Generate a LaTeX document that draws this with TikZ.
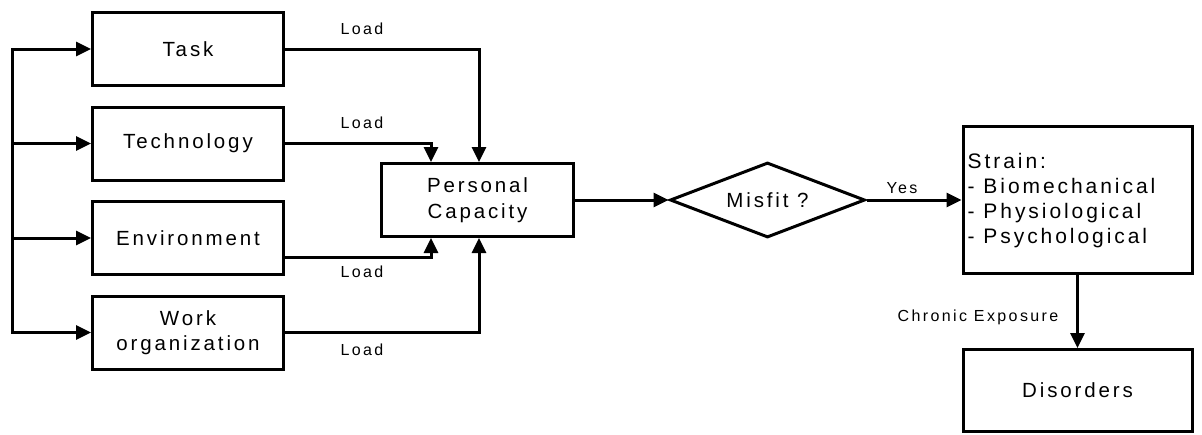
\documentclass[tikz,border=0pt]{standalone}
\usepackage{fontspec}
\setmainfont{Liberation Sans}[LetterSpace=14]
\newfontfamily\smallfnt{Liberation Sans}[LetterSpace=15]
\usetikzlibrary{shapes.geometric,arrows.meta}
\begin{document}
\begin{tikzpicture}[x=1pt,y=-1pt,
  box/.style={draw,line width=3pt,minimum width=191pt,minimum height=73pt,inner sep=0pt,align=center,font=\fontsize{20.5}{25.5}\selectfont},
  lbl/.style={font=\smallfnt\fontsize{16}{18}\selectfont,inner sep=0pt},
  arr/.style={line width=3pt,-{Triangle[length=15pt,width=14pt]}},
  ln/.style={line width=3pt}]
\useasboundingbox (0,0) rectangle (1202,434);

\node[box] (task) at (188,49) {Task};
\node[box] (tech) at (188,143.5) {Technology};
\node[box] (env)  at (188,238) {Environment};
\node[box] (work) at (188,332.5) {Work\\organization};

\node[box,minimum width=192pt] (pc) at (477.5,200) {Personal\\Capacity};
\node[draw,diamond,shape aspect=2.6,line width=3pt,minimum width=195pt,minimum height=75pt,inner sep=0pt,font=\fontsize{20.5}{25}\selectfont] (mis) at (767.5,200) {Misfit ?};
\node[box,minimum width=229pt,minimum height=147pt] (strain) at (1077.5,200) {};
\node[anchor=west,align=left,inner sep=0pt,font=\fontsize{21}{25}\selectfont] (straintxt) at ([xshift=6pt,yshift=-1pt]strain.west) {Strain:\\- Biomechanical\\- Physiological\\- Psychological};
\node[box,minimum width=229pt,minimum height=82pt] (dis) at (1077.5,390.5) {Disorders};

% bus
\coordinate (b1) at (12,49);
\coordinate (b4) at (12,332.5);
\draw[arr] (b4) |- (task.west);
\draw[arr] (b1) |- (work.west);
\draw[arr] (b1|-tech.west) -- (tech.west);
\draw[arr] (b1|-env.west) -- (env.west);

% loads
\draw[arr] (task.east) -| ([xshift=1.5pt]pc.north);
\draw[arr] (tech.east) -| ([xshift=-46.5pt]pc.north);
\draw[arr] ([yshift=-19pt]env.east) -| ([xshift=-46.5pt]pc.south);
\draw[arr] (work.east) -| ([xshift=1.5pt]pc.south);

\node[lbl] (l1) at (362,29) {Load};
\node[lbl] (l2) at (362,123) {Load};
\node[lbl] (l3) at (362,272) {Load};
\node[lbl] (l4) at (362,350) {Load};

\draw[arr] (pc.east) -- (mis.west);
\draw[arr] (mis.east) -- (strain.west);
\node[lbl] (yes) at (902,188) {Yes};
\draw[arr] (strain.south) -- (dis.north);
\node[lbl] (chr) at (978,317) {Chronic Exposure};
\end{tikzpicture}
\end{document}
